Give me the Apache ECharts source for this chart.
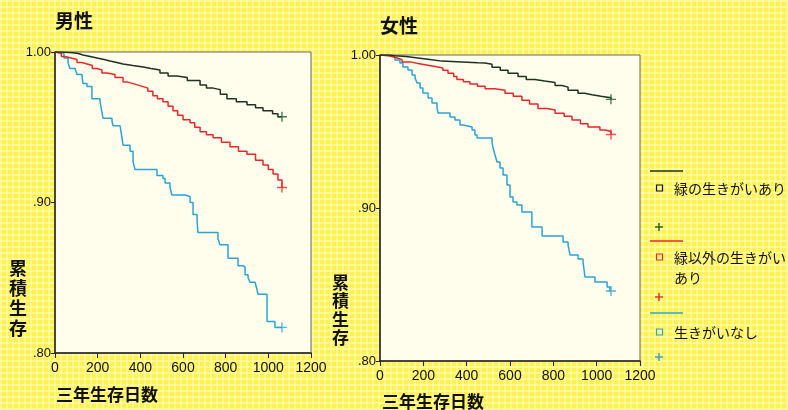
<!DOCTYPE html>
<html><head><meta charset="utf-8">
<script src="https://cdn.jsdelivr.net/npm/echarts@6/dist/echarts.min.js"></script>
<style>
html,body{margin:0;padding:0;}
body{width:788px;height:410px;overflow:hidden;background-color:#fff250;
background-image:repeating-linear-gradient(0deg,rgba(255,255,215,0.45) 0 2px,transparent 2px 6px),repeating-linear-gradient(90deg,rgba(255,255,215,0.45) 0 2px,transparent 2px 6px);}
#c{width:788px;height:410px;}
</style></head>
<body><div id="c"></div>
<script>
// ---- data ----
const panelTitles = ['男性', '女性'];
const seriesNames = ['緑の生きがいあり', '緑以外の生きがいあり', '生きがいなし'];
const yTickLabels = { 80: '.80', 90: '.90', 100: '1.00' };
const xTickValues = [0, 200, 400, 600, 800, 1000, 1200];
const xAxisName = '三年生存日数';
const yAxisName = '累積生存';

const menGreen = [[0,1],[30,0.9995],[84,0.999],[110,0.998],[131,0.997],[165,0.996],[197,0.995],[230,0.994],[258,0.993],[290,0.992],[319,0.991],[365,0.990],[413,0.989],[450,0.988],[492,0.986],[530,0.984],[572,0.983],[620,0.981],[680,0.978],[710,0.976],[741,0.975],[775,0.972],[806,0.969],[850,0.967],[900,0.965],[940,0.963],[975,0.961],[1020,0.959],[1045,0.957],[1064,0.957]];
const menRed = [[0,1],[9,0.999],[30,0.997],[47,0.996],[75,0.995],[103,0.993],[125,0.992],[150,0.991],[175,0.989],[197,0.988],[220,0.986],[244,0.985],[281,0.983],[319,0.980],[340,0.979],[366,0.978],[390,0.977],[413,0.976],[435,0.974],[459,0.971],[480,0.969],[506,0.967],[530,0.964],[553,0.961],[575,0.958],[600,0.955],[633,0.953],[655,0.950],[680,0.947],[710,0.945],[741,0.943],[780,0.940],[820,0.937],[860,0.934],[900,0.932],[940,0.928],[975,0.925],[1000,0.922],[1022,0.919],[1045,0.915],[1064,0.910]];
const menCyan = [[0,1],[23,0.999],[42,0.996],[61,0.993],[70,0.989],[94,0.988],[103,0.985],[127,0.983],[131,0.979],[150,0.977],[173,0.969],[211,0.967],[220,0.960],[225,0.956],[267,0.954],[272,0.951],[305,0.950],[314,0.943],[319,0.938],[352,0.934],[366,0.927],[375,0.922],[478,0.918],[506,0.916],[516,0.913],[539,0.910],[548,0.905],[609,0.904],[633,0.900],[647,0.892],[666,0.888],[670,0.880],[764,0.876],[773,0.872],[811,0.863],[858,0.858],[881,0.857],[891,0.852],[905,0.850],[914,0.847],[938,0.846],[947,0.842],[952,0.839],[994,0.821],[1031,0.817],[1064,0.817]];

const womenGreen = [[0,1],[40,0.9995],[69,0.999],[120,0.998],[175,0.997],[230,0.996],[286,0.9955],[378,0.995],[452,0.9948],[485,0.994],[517,0.992],[555,0.990],[591,0.988],[637,0.986],[675,0.984],[715,0.983],[760,0.982],[808,0.980],[840,0.979],[868,0.977],[914,0.975],[945,0.974],[978,0.973],[1020,0.972],[1066,0.971]];
const womenRed = [[0,1],[9,0.9995],[35,0.999],[55,0.998],[80,0.997],[102,0.9955],[140,0.9945],[175,0.9935],[215,0.9925],[254,0.9915],[290,0.990],[314,0.988],[340,0.986],[355,0.984],[385,0.9825],[415,0.981],[450,0.9795],[485,0.978],[530,0.977],[577,0.975],[615,0.973],[655,0.9705],[690,0.968],[729,0.965],[770,0.964],[808,0.962],[850,0.960],[886,0.9575],[925,0.955],[960,0.953],[1015,0.951],[1040,0.950],[1066,0.948]];
const womenCyan = [[0,1],[46,0.9987],[69,0.9967],[92,0.9948],[106,0.9922],[129,0.9902],[148,0.9869],[162,0.985],[171,0.9817],[185,0.9784],[198,0.9752],[222,0.9719],[240,0.9686],[263,0.9654],[268,0.9621],[323,0.9595],[346,0.9575],[369,0.9542],[383,0.9529],[425,0.951],[438,0.9477],[448,0.9458],[517,0.9431],[522,0.9392],[531,0.9346],[540,0.9301],[554,0.9261],[568,0.9216],[586,0.915],[600,0.9072],[614,0.9039],[632,0.902],[655,0.8974],[701,0.8876],[748,0.8817],[845,0.8778],[868,0.8758],[877,0.8693],[914,0.8667],[937,0.8647],[946,0.8549],[992,0.8516],[1048,0.8484],[1061,0.8458],[1066,0.8458]];

const panels = [[menGreen, menRed, menCyan], [womenGreen, womenRed, womenCyan]];
const lineColors = ['#1c3320', '#e8272b', '#2ba3d8'];
const plusColors = ['#1f5a2c', '#e8272b', '#2ba3d8'];

// ---- chart ----
const chart = echarts.init(document.getElementById('c'), null, {renderer: 'canvas'});
const font = "'Liberation Sans', Arial, sans-serif";
const jp = "'Noto Sans CJK JP', sans-serif";
const grids = [
  {left: 55, top: 52, width: 256, height: 301},
  {left: 380, top: 55, width: 260, height: 306}
];
const gridOpts = grids.map(g => Object.assign({show: true, backgroundColor: '#fffeec', borderColor: '#666', borderWidth: 1}, g));
const xAxes = grids.map((g, i) => ({
  type: 'value', gridIndex: i, min: 0, max: 1200, interval: 200,
  axisLine: {show: true, lineStyle: {color: '#222', width: 1.5}},
  axisTick: {show: true, length: 5, lineStyle: {color: '#222'}},
  axisLabel: {color: '#111', fontSize: 14, fontFamily: font, margin: 8,
    formatter: v => xTickValues.indexOf(v) >= 0 ? String(v) : ''},
  splitLine: {show: false}
}));
const yAxes = grids.map((g, i) => ({
  type: 'value', gridIndex: i, min: 0.8, max: 1.0, interval: 0.1,
  axisLine: {show: true, lineStyle: {color: '#222', width: 1.5}},
  axisTick: {show: true, length: 4, lineStyle: {color: '#222'}},
  axisLabel: {color: '#111', fontSize: 13, fontFamily: font, margin: 4,
    formatter: v => yTickLabels[Math.round(v * 100)] || ''},
  splitLine: {show: false}
}));
const series = [];
panels.forEach((sets, p) => {
  sets.forEach((data, k) => {
    series.push({
      type: 'line', name: seriesNames[k], xAxisIndex: p, yAxisIndex: p,
      data: data, step: 'end', showSymbol: false, silent: true,
      lineStyle: {color: lineColors[k], width: 1.5}, z: 3 + (2 - k)
    });
    series.push({
      type: 'scatter', xAxisIndex: p, yAxisIndex: p, silent: true,
      data: [data[data.length - 1]],
      symbol: 'path://M0,5L10,5M5,0L5,10', symbolSize: 10,
      itemStyle: {color: 'none', borderColor: plusColors[k], borderWidth: 1.4}, z: 6
    });
  });
});

const graphic = [
  {type: 'text', left: 55, top: 11, style: {text: panelTitles[0], font: 'bold 19px ' + jp, fill: '#111'}},
  {type: 'text', left: 380, top: 16, style: {text: panelTitles[1], font: 'bold 19px ' + jp, fill: '#111'}},
  {type: 'text', left: 9, top: 258, style: {text: yAxisName.split('').join('\n'), font: 'bold 18px ' + jp, lineHeight: 20, fill: '#111'}},
  {type: 'text', left: 332, top: 273, style: {text: yAxisName.split('').join('\n'), font: 'bold 17px ' + jp, lineHeight: 18.5, fill: '#111'}},
  {type: 'text', left: 56, top: 386, style: {text: xAxisName, font: 'bold 17px ' + jp, fill: '#111'}},
  {type: 'text', left: 382, top: 393, style: {text: xAxisName, font: 'bold 17px ' + jp, fill: '#111'}}
];
const legendRows = [
  {line: 171, sq: 188, text: seriesNames[0], plus: 227},
  {line: 241, sq: 257, text: '緑以外の生きがい\nあり', plus: 297},
  {line: 313, sq: 332, text: seriesNames[2], plus: 357}
];
legendRows.forEach((r, k) => {
  graphic.push({type: 'line', shape: {x1: 650, y1: r.line, x2: 683, y2: r.line}, style: {stroke: lineColors[k], lineWidth: 1.5}});
  graphic.push({type: 'rect', shape: {x: 656.5, y: r.sq - 3, width: 6, height: 6}, style: {fill: 'none', stroke: k === 0 ? '#111' : lineColors[k], lineWidth: 1.2}});
  graphic.push({type: 'text', left: 674, top: r.sq - 9, style: {text: r.text, font: '14px ' + jp, lineHeight: 20, fill: '#111'}});
  graphic.push({type: 'line', shape: {x1: 655, y1: r.plus, x2: 663, y2: r.plus}, style: {stroke: plusColors[k], lineWidth: 1.4}});
  graphic.push({type: 'line', shape: {x1: 659, y1: r.plus - 4, x2: 659, y2: r.plus + 4}, style: {stroke: plusColors[k], lineWidth: 1.4}});
});

chart.setOption({
  animation: false,
  backgroundColor: 'transparent',
  grid: gridOpts, xAxis: xAxes, yAxis: yAxes, series: series, graphic: graphic
});
</script></body></html>
